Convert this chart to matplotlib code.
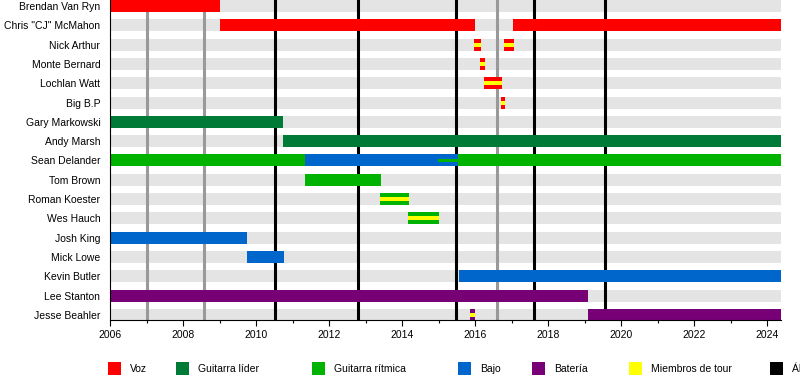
import matplotlib
matplotlib.use("Agg")
import matplotlib.pyplot as plt
from matplotlib.patches import Rectangle

plt.rcParams['font.family'] = ['Liberation Sans', 'DejaVu Sans']

END = 2024.38

members = ["Brendan Van Ryn", 'Chris "CJ" McMahon', "Nick Arthur", "Monte Bernard",
           "Lochlan Watt", "Big B.P", "Gary Markowski", "Andy Marsh", "Sean Delander",
           "Tom Brown", "Roman Koester", "Wes Hauch", "Josh King", "Mick Lowe",
           "Kevin Butler", "Lee Stanton", "Jesse Beahler"]

# (member, start, end)
vocals = [("Brendan Van Ryn", 2006.0, 2009.0),
          ('Chris "CJ" McMahon', 2009.0, 2016.0),
          ('Chris "CJ" McMahon', 2017.05, END)]
vocals_tour = [("Nick Arthur", 2015.97, 2016.16),
               ("Nick Arthur", 2016.79, 2017.07),
               ("Monte Bernard", 2016.14, 2016.27),
               ("Lochlan Watt", 2016.25, 2016.74),
               ("Big B.P", 2016.71, 2016.83)]
lead_guitar = [("Gary Markowski", 2006.0, 2010.75),
               ("Andy Marsh", 2010.75, END)]
rhythm_guitar = [("Sean Delander", 2006.0, 2011.34),
                 ("Sean Delander", 2015.53, END),
                 ("Tom Brown", 2011.33, 2013.41)]
rhythm_guitar_minor = [("Sean Delander", 2014.99, 2015.53)]
rhythm_guitar_tour = [("Roman Koester", 2013.40, 2014.19),
                      ("Wes Hauch", 2014.17, 2015.01)]
bass = [("Sean Delander", 2011.34, 2015.53),
        ("Josh King", 2006.0, 2009.74),
        ("Mick Lowe", 2009.74, 2010.76),
        ("Kevin Butler", 2015.56, END)]
drums = [("Lee Stanton", 2006.0, 2019.10),
         ("Jesse Beahler", 2019.08, END)]
drums_tour = [("Jesse Beahler", 2015.86, 2016.0)]

studio_albums = [2010.52, 2012.80, 2015.48, 2017.62, 2019.56]
eps = [2007.0, 2008.58, 2016.61]

legend_labels = ["Voz", "Guitarra líder", "Guitarra rítmica", "Bajo", "Batería",
                 "Miembros de tour", "Álbum de estudio"]

C_VOC = "#ff0000"
C_LEAD = "#007a37"
C_RHY = "#00b300"
C_BASS = "#0066cc"
C_DRUM = "#770077"
C_TOUR = "#ffff00"
C_ALB = "#000000"
C_EP = "#999999"
C_BAND = "#e4e4e4"

fig = plt.figure(figsize=(8, 3.8), dpi=100)
ax = fig.add_axes([110/800, 60/380, 671/800, 320/380])

idx = {m: i for i, m in enumerate(members)}
H = 0.62

# background bands
ax.barh(range(len(members)), END - 2006.0, left=2006.0, height=H, color=C_BAND, zorder=1)

for x in eps:
    ax.axvline(x, color=C_EP, lw=2.2, zorder=2)
for x in studio_albums:
    ax.axvline(x, color=C_ALB, lw=2.2, zorder=2)

def draw(spans, color, height=H, z=3):
    for m, s, e in spans:
        ax.barh(idx[m], e - s, left=s, height=height, color=color, zorder=z, linewidth=0)

def draw_tour(spans, color):
    draw(spans, color)
    draw(spans, C_TOUR, height=H / 3, z=4)

draw(vocals, C_VOC)
draw_tour(vocals_tour, C_VOC)
draw(lead_guitar, C_LEAD)
draw(rhythm_guitar, C_RHY)
draw(bass, C_BASS)
draw(rhythm_guitar_minor, C_RHY, height=0.16, z=4)
draw_tour(rhythm_guitar_tour, C_RHY)
draw(drums, C_DRUM)
draw_tour(drums_tour, C_DRUM)

ax.set_xlim(2006.0, END)
ax.set_ylim(len(members) - 1 + 0.26, -0.31)
ax.set_yticks(range(len(members)))
ax.set_yticklabels(members, fontsize=7.5)
ax.tick_params(axis='y', length=0, pad=7)
ax.set_xticks(range(2006, 2025, 2))
ax.set_xticks(range(2006, 2025), minor=True)
ax.tick_params(axis='x', which='major', length=4, width=0.8, labelsize=7.5, pad=3)
ax.tick_params(axis='x', which='minor', length=2.5, width=0.8)
for s in ["top", "right"]:
    ax.spines[s].set_visible(False)
for s in ["left", "bottom"]:
    ax.spines[s].set_linewidth(0.8)
    ax.spines[s].set_zorder(5)

legend_colors = [C_VOC, C_LEAD, C_RHY, C_BASS, C_DRUM, C_TOUR, C_ALB]
legend_x = [108, 176, 312, 458, 532, 629, 770]
for lx, col, lab in zip(legend_x, legend_colors, legend_labels):
    fig.patches.append(Rectangle((lx/800, 5/380), 13/800, 13/380, transform=fig.transFigure,
                                 facecolor=col, edgecolor='none', figure=fig))
    fig.text((lx + 22)/800, 11.5/380, lab, fontsize=7.5, va='center', ha='left')

fig.savefig("out.png", dpi=100)
